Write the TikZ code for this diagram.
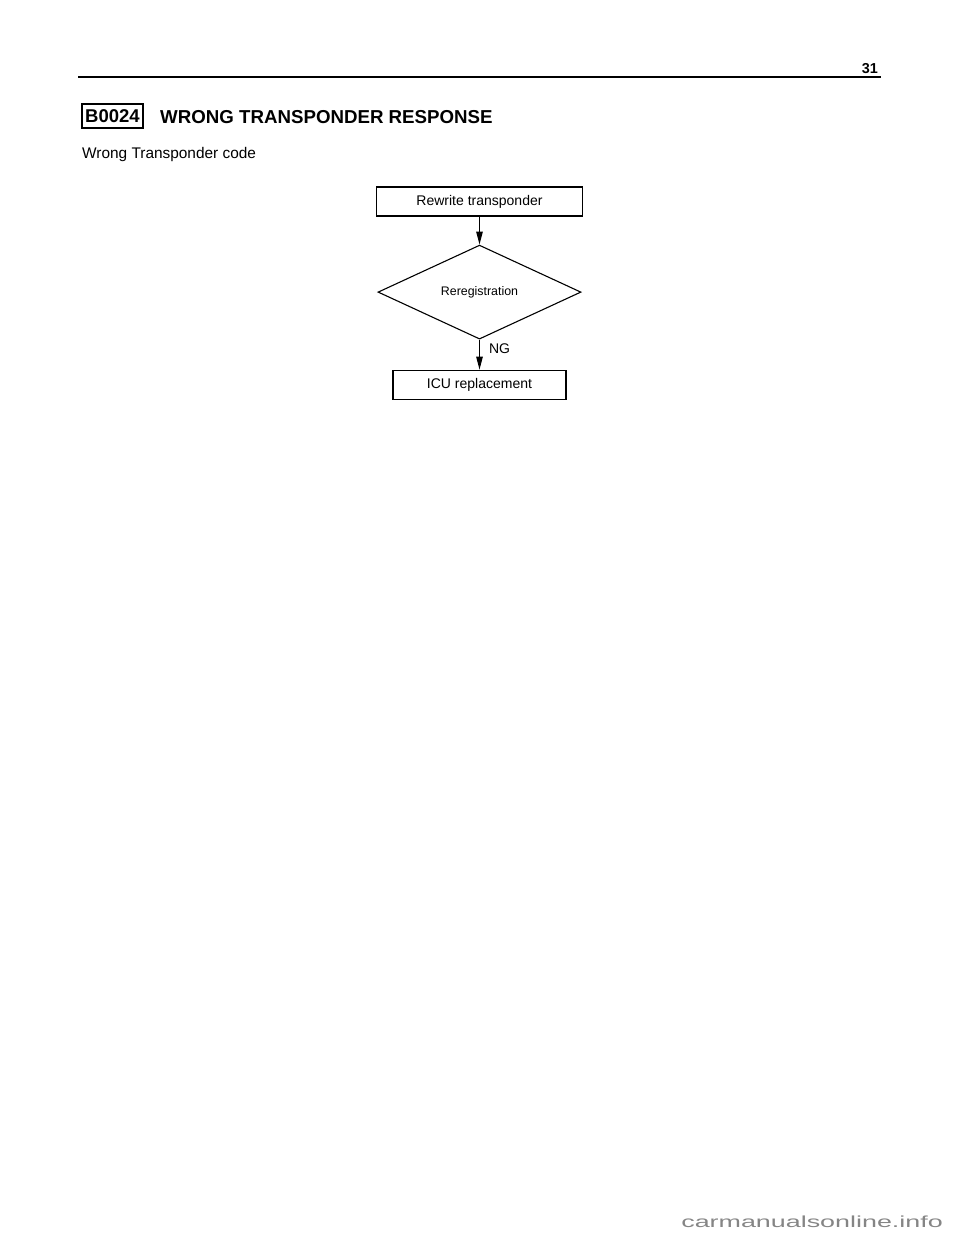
\documentclass[tikz,border=0pt]{standalone}
\usepackage{fontspec}
\setmainfont{Liberation Sans}
\usetikzlibrary{positioning, shapes.geometric, arrows.meta}
\tikzset{
	stepbox/.style={draw, rectangle, line width=1.1pt, inner sep=0pt, minimum height=29pt, font=\fontsize{14}{16}\selectfont},
	decision/.style={draw, diamond, line width=1.1pt, inner sep=0pt, minimum width=203pt, minimum height=94pt, font=\fontsize{12.4}{14}\selectfont},
	codebox/.style={draw, rectangle, line width=1.1pt, inner sep=0pt, minimum width=61pt, minimum height=24pt, font=\fontsize{18.5}{20}\selectfont\bfseries},
	flow/.style={line width=1.1pt, -{Triangle[length=13pt,width=6.5pt]}},
	% label on the NG branch
	cond/.style={anchor=west, inner sep=0pt, font=\fontsize{14}{16}\selectfont}
}

\begin{document}
\begin{tikzpicture}[x=1pt, y=-1pt]
	\useasboundingbox (0,0) rectangle (960,1242);
	
	% page header
	\node (page) [anchor=base east, inner sep=0pt, font=\fontsize{14.4}{16}\selectfont\bfseries] at (878,73) {31};
	\draw[line width=1.5pt] (78,77) -- (881,77);
	
	\node (code) [codebox] at (112.5,116) {B0024};
	\node (title) [anchor=base west, inner sep=0pt, font=\fontsize{18.7}{20}\selectfont\bfseries] at (160,123) {WRONG TRANSPONDER RESPONSE};
	\node (sub) [anchor=base west, inner sep=0pt, font=\fontsize{15.4}{18}\selectfont] at (82,158) {Wrong Transponder code};
	
	% flow chart
	\node (rw) [stepbox, minimum width=206pt] at (479.5,201.5) {Rewrite transponder};
	\node (rereg) [decision, below=28pt of rw] {Reregistration};
	\node (icu) [stepbox, minimum width=173pt, below=30pt of rereg] {ICU replacement};
	
	\draw[flow] (rw) -- (rereg);
	\draw[flow] (rereg) -- node[cond, pos=0.3, xshift=9pt] {NG} (icu);
	
	\node (site) [anchor=base east, inner sep=0pt, text=black!48] at (943,1227) {\scalebox{1.68}[1]{\fontsize{16}{18}\selectfont carmanualsonline.info}};
\end{tikzpicture}
\end{document}
